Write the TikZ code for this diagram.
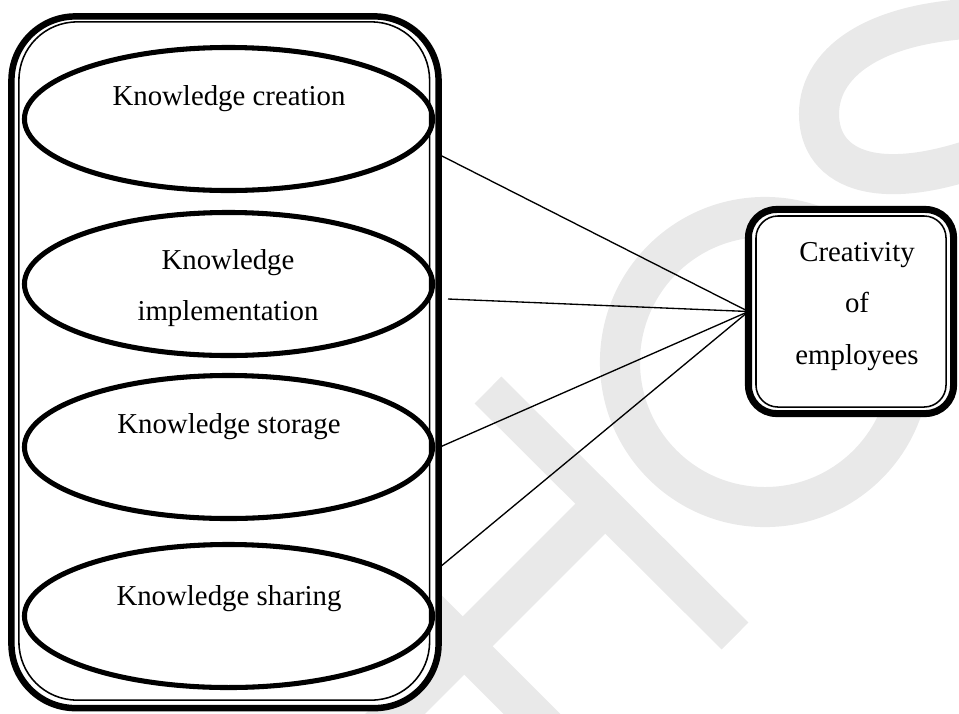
\documentclass[tikz,border=0pt]{standalone}
\usepackage{fontspec}
\setmainfont{Liberation Serif}
\usetikzlibrary{shapes.geometric}
\usetikzlibrary{calc}

\definecolor{wmgray}{RGB}{233,233,233}

\begin{document}
\begin{tikzpicture}[x=0.025cm, y=-0.025cm,
        every node/.style={font=\fontsize{20.5pt}{36.5pt}\selectfont},
        factor/.style={draw, ellipse, line width=3.6pt, inner sep=0pt, outer sep=0pt,
            minimum width=10.2cm, minimum height=3.575cm},
        txt/.style={inner sep=0pt, anchor=base},
        wmark/.style={draw=wmgray, line width=28.5pt},
        link/.style={line width=0.95pt}]

        \useasboundingbox (0,0) rectangle (959,713);
        \clip (0,0) rectangle (959,713);

        % faint letters in the background
        \draw[wmark, line width=27pt] (488,390) -- (735,636);
        \draw[wmark, line width=30pt] (604,505) -- (371,738);
        \draw[wmark] (333,515) -- (616,798);
        \draw[wmark] (765,362) circle[radius=3.625cm];
        \draw[wmark] (1010,18) .. controls (880,15) and (819,60) .. (819,114)
            .. controls (819,170) and (880,200) .. (1010,145);

        % outer group of the four processes
        \node[draw, fill=white, line width=4.6pt, rounded corners=1.6cm, inner sep=0pt, outer sep=0pt,
            minimum width=10.675cm, minimum height=17.2875cm] (group) at (225,362.25) {};
        \draw[line width=1.1pt, rounded corners=1.45cm]
            ($(group.north west)+(7.5,5.5)$) rectangle ($(group.south east)+(-9,-8)$);

        \node[factor] (creation) at (228.5,119) {};
        \node[factor] (implement) at (228.5,284) {};
        \node[factor] (storage) at (228.5,447) {};
        \node[factor] (sharing) at (228.5,616) {};

        \node[txt] (creationtxt) at (229,105) {Knowledge creation};
        \node[align=center, inner sep=0pt] (implementtxt) at (228,288) {Knowledge\\implementation};
        \node[txt] (storagetxt) at (229,433) {Knowledge storage};
        \node[txt] (sharingtxt) at (229,605) {Knowledge sharing};

        % outcome box
        \node[draw, fill=white, line width=5pt, rounded corners=0.7cm, inner sep=0pt, outer sep=0pt,
            minimum width=5.125cm, minimum height=5.1cm] (creative) at (851,311.5) {};
        \draw[line width=1.1pt, rounded corners=0.55cm]
            ($(creative.north west)+(7.5,6.5)$) rectangle ($(creative.south east)+(-7.5,-6.5)$);
        \node[align=center, inner sep=0pt] (creativetxt) at (857,306.5) {Creativity\\of\\employees};

        % links
        \coordinate (from1) at (440,155);
        \coordinate (from2) at (448,299);
        \coordinate (from3) at (440,447);
        \coordinate (from4) at (440,567);
        \draw[link] (from1) -- (creative.west);
        \draw[link] (from2) -- (creative.west);
        \draw[link] (from3) -- (creative.west);
        \draw[link] (from4) -- (creative.west);

\end{tikzpicture}
\end{document}
